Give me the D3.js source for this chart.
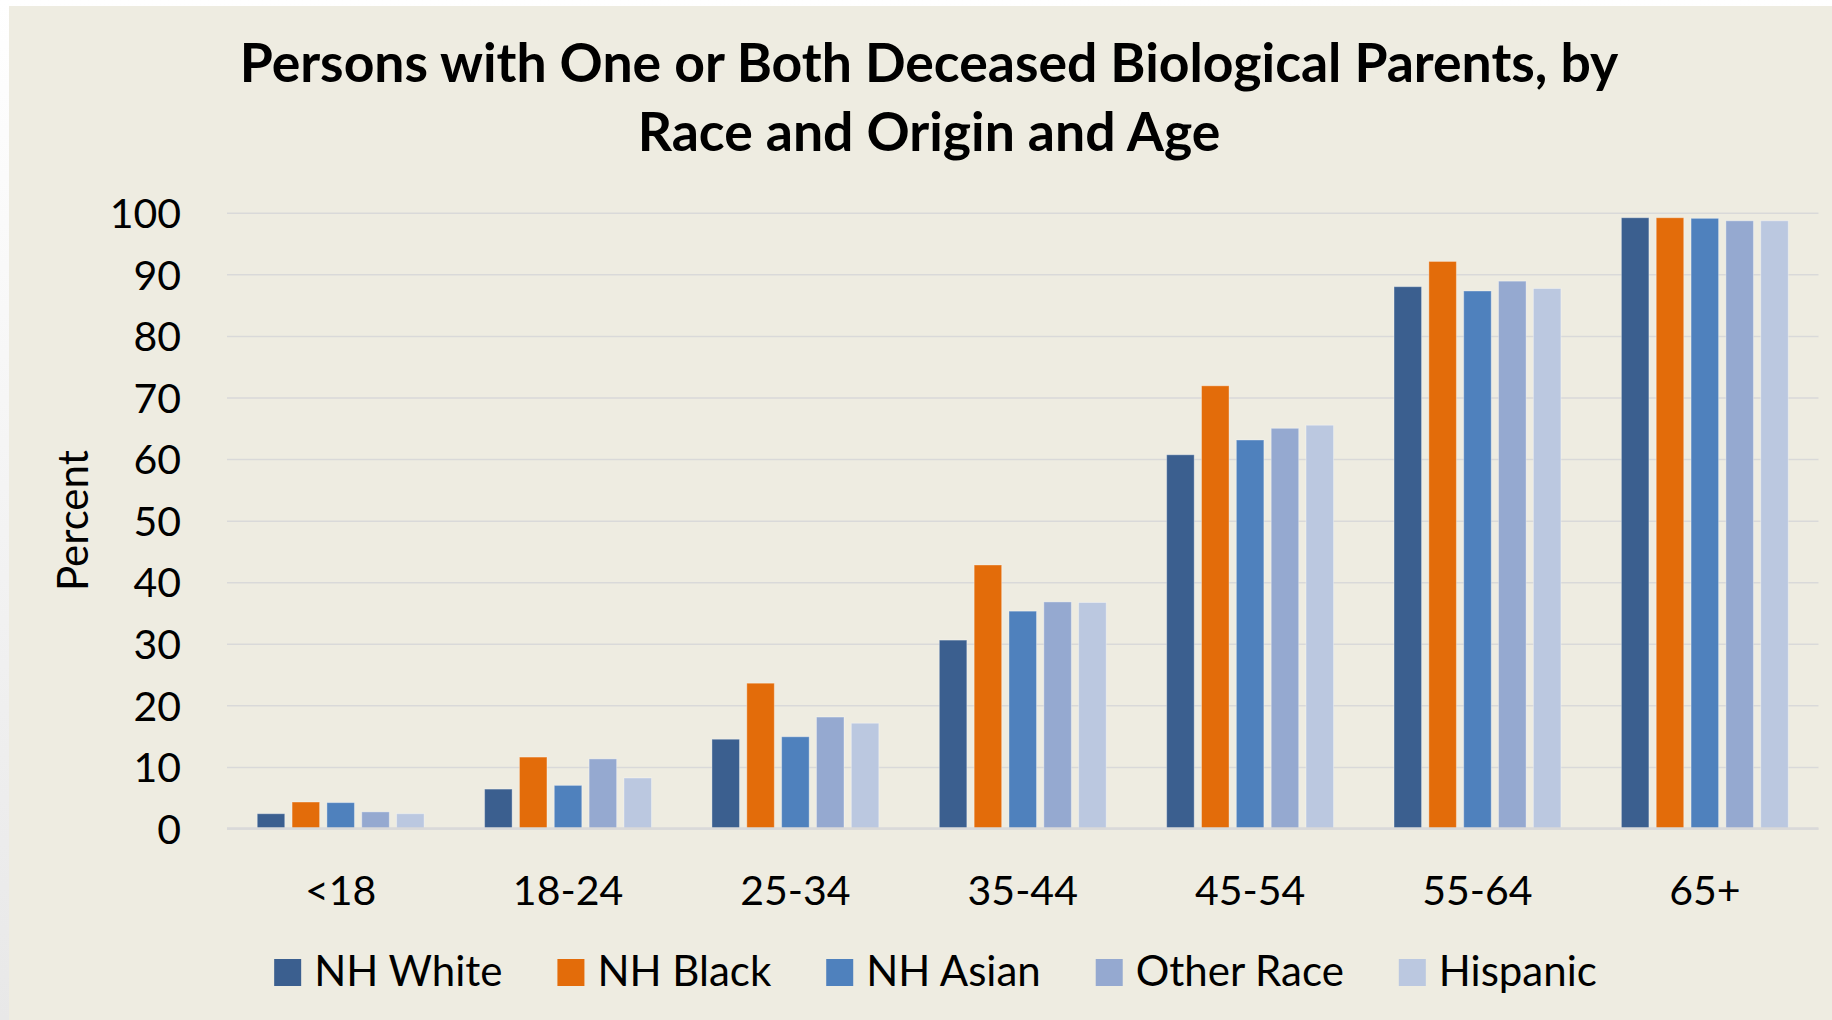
<!DOCTYPE html>
<html>
<head>
<meta charset="utf-8">
<script src="https://cdn.jsdelivr.net/npm/d3@7"></script>
<style>
  html, body { margin: 0; padding: 0; background: #ffffff; }
  svg { display: block; }
  text { font-family: Lato, "Open Sans", sans-serif; fill: #000; }
</style>
</head>
<body>
<svg id="chart" width="1832" height="1020"></svg>
<script>
// ---- data ----
const categories = ["<18", "18-24", "25-34", "35-44", "45-54", "55-64", "65+"];
const seriesNames = ["NH White", "NH Black", "NH Asian", "Other Race", "Hispanic"];
const nhWhite   = [2.4, 6.4, 14.5, 30.6, 60.7, 88.0, 99.2];
const nhBlack   = [4.3, 11.6, 23.6, 42.8, 71.9, 92.1, 99.2];
const nhAsian   = [4.2, 7.0, 14.9, 35.3, 63.1, 87.3, 99.1];
const otherRace = [2.7, 11.3, 18.1, 36.8, 65.0, 88.9, 98.7];
const hispanic  = [2.4, 8.2, 17.1, 36.7, 65.5, 87.7, 98.7];
const yTicks = [0, 10, 20, 30, 40, 50, 60, 70, 80, 90, 100];
const titleLines = ["Persons with One or Both Deceased Biological Parents, by", "Race and Origin and Age"];
const yLabel = "Percent";
const colors = ["#3b5f8f", "#e36c0a", "#4f81bd", "#95a9d0", "#bbc8e0"];

const seriesValues = [nhWhite, nhBlack, nhAsian, otherRace, hispanic];
const table = categories.map((c, i) => ({
  category: c,
  values: seriesNames.map((s, j) => ({ series: s, value: seriesValues[j][i] }))
}));

// ---- layout ----
const W = 1832, H = 1020;
const svg = d3.select("#chart");

const defs = svg.append("defs");
const grad = defs.append("linearGradient").attr("id", "edge").attr("x1", 0).attr("y1", 0).attr("x2", 0).attr("y2", 1);
grad.append("stop").attr("offset", "0%").attr("stop-color", "#ffffff");
grad.append("stop").attr("offset", "100%").attr("stop-color", "#e8e8e8");

svg.append("rect").attr("x", 0).attr("y", 0).attr("width", W).attr("height", H).attr("fill", "url(#edge)");
svg.append("rect").attr("x", 9).attr("y", 6).attr("width", W - 9).attr("height", H - 6).attr("fill", "#eeece1");

const plot = { left: 227, right: 1818.5, top: 212.8, bottom: 828.5 };

const x0 = d3.scaleBand()
  .domain(categories)
  .range([plot.left, plot.right])
  .paddingInner(0.266)
  .paddingOuter(0.133);

const x1 = d3.scaleBand()
  .domain(seriesNames)
  .range([0, x0.bandwidth()])
  .paddingInner(0.21);

const y = d3.scaleLinear().domain([0, 100]).range([plot.bottom, plot.top]);
const color = d3.scaleOrdinal().domain(seriesNames).range(colors);

// gridlines + y tick labels
const yAxis = d3.axisLeft(y).tickValues(yTicks).tickSize(-(plot.right - plot.left)).tickPadding(46).tickFormat(d3.format("d"));
const gy = svg.append("g").attr("transform", `translate(${plot.left},0)`).call(yAxis);
gy.select(".domain").remove();
gy.selectAll(".tick line").attr("stroke", "#d9d9d9").attr("stroke-width", 1.5);
gy.selectAll(".tick text")
  .attr("font-size", 41)
  .attr("fill", "#000")
  .style("font-family", "Lato, sans-serif")
  .attr("dy", "0.36em");

// bars
const groups = svg.append("g").selectAll("g")
  .data(table)
  .join("g")
  .attr("transform", d => `translate(${x0(d.category)},0)`);

groups.selectAll("rect")
  .data(d => d.values)
  .join("rect")
  .attr("x", d => x1(d.series))
  .attr("width", x1.bandwidth())
  .attr("y", d => y(d.value))
  .attr("height", d => y(0) - y(d.value))
  .attr("fill", d => color(d.series))
  .attr("stroke", "rgba(255,255,255,0.35)")
  .attr("stroke-width", 1);

// baseline / x axis
const xAxis = d3.axisBottom(x0).tickSize(0).tickPadding(0);
const gx = svg.append("g").attr("transform", `translate(0,${plot.bottom})`).call(xAxis);
gx.select(".domain").attr("stroke", "#d9d9d9").attr("stroke-width", 2.5)
  .attr("d", `M${plot.left},0H${plot.right}`);
gx.selectAll(".tick text")
  .attr("font-size", 41)
  .attr("fill", "#000")
  .attr("y", 76)
  .attr("dy", 0)
  .style("font-family", "Lato, sans-serif");

// y label
svg.append("text")
  .attr("transform", `translate(88,${(plot.top + plot.bottom) / 2}) rotate(-90)`)
  .attr("text-anchor", "middle")
  .attr("font-size", 42)
  .text(yLabel);

// title
const title = svg.append("g");
const t1 = title.append("text").attr("x", 929).attr("y", 82).attr("text-anchor", "middle")
  .attr("font-weight", "bold").attr("font-size", 50).text(titleLines[0]);
const measured = t1.node().getComputedTextLength();
const titleSize = 50 * 1379 / measured;
t1.attr("font-size", titleSize);
title.append("text").attr("x", 929).attr("y", 151).attr("text-anchor", "middle")
  .attr("font-weight", "bold").attr("font-size", titleSize).text(titleLines[1]);

// legend
const legend = svg.append("g");
const items = legend.selectAll("g").data(seriesNames).join("g");
items.append("rect").attr("width", 27).attr("height", 27).attr("y", 959).attr("fill", d => color(d));
items.append("text").attr("x", 40).attr("y", 986).attr("font-size", 42).text(d => d);
const widths = [];
items.each(function () {
  const tw = d3.select(this).select("text").node().getComputedTextLength();
  widths.push(40 + tw);
});
const gap = 55;
const total = d3.sum(widths) + gap * (widths.length - 1);
let start = 935.5 - total / 2;
items.attr("transform", (d, i) => {
  const xx = start;
  start += widths[i] + gap;
  return `translate(${xx},0)`;
});
</script>
</body>
</html>
